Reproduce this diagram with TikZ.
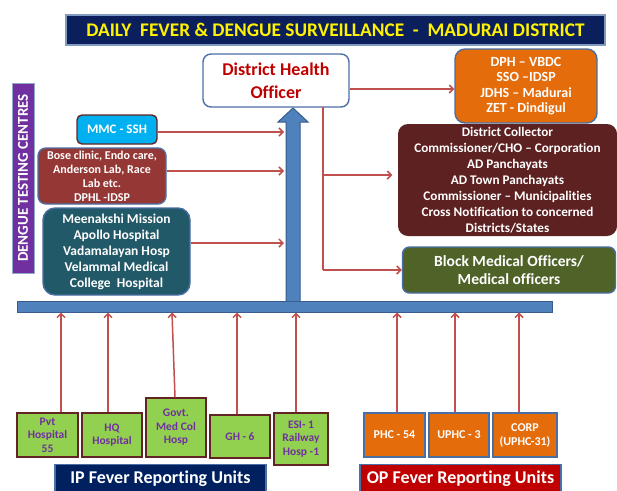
\documentclass[tikz,border=0pt]{standalone}
\usepackage{fontspec}
\setmainfont{Carlito}[Ligatures=NoCommon]
\usetikzlibrary{arrows.meta,calc}
\definecolor{navy}{HTML}{0B1F5C}
\definecolor{navyb}{HTML}{002060}
\definecolor{frameblue}{HTML}{4A6FA5}
\definecolor{dhored}{HTML}{C00000}
\definecolor{orangeb}{HTML}{E46C0A}
\definecolor{brownb}{HTML}{5E2121}
\definecolor{greenb}{HTML}{4F6228}
\definecolor{cyanb}{HTML}{00B0F0}
\definecolor{boseb}{HTML}{953735}
\definecolor{tealb}{HTML}{215968}
\definecolor{purpleb}{HTML}{7030A0}
\definecolor{barblue}{HTML}{4F81BD}
\definecolor{barline}{HTML}{385D8A}
\definecolor{arrowred}{HTML}{C0504D}
\definecolor{lgreen}{HTML}{92D050}
\definecolor{dkred}{HTML}{632523}
\definecolor{banred}{HTML}{C00000}
\tikzset{
  box/.style={draw=frameblue, line width=1.4pt, align=center, inner sep=0pt, text=white},
  redarrow/.style={draw=arrowred, line width=1.5pt, -{Straight Barb[length=4pt,width=8pt]}},
  redline/.style={draw=arrowred, line width=1.5pt},
  ipbox/.style={draw=dkred, line width=1.4pt, fill=lgreen, text=purpleb, align=center, inner sep=0pt,
    font=\bfseries\fontsize{11.5}{13.5}\selectfont},
  opbox/.style={draw=frameblue, line width=1.4pt, fill=orangeb, text=white, align=center, inner sep=0pt,
    font=\bfseries\fontsize{12}{14}\selectfont},
}
\begin{document}
\begin{tikzpicture}[x=1pt,y=-1pt]
\useasboundingbox[fill=white] (0,0) rectangle (617,490);

% title banner
\node[box, draw=frameblue!70, fill=navy, text={yellow}, minimum width=539pt, minimum height=30pt,
  font=\bfseries\fontsize{19.3}{22}\selectfont] (title) at (335.5,30)
  {DAILY\ \ FEVER \& DENGUE SURVEILLANCE\ \ -\ \ MADURAI DISTRICT};

% district health officer
\node[box, fill=white, text=dhored, rounded corners=8pt, minimum width=146pt, minimum height=53pt,
  font=\bfseries\fontsize{18}{22.5}\selectfont] (dho) at (276,80.5) {District Health\\Officer};

% orange box
\node[box, fill=orangeb, rounded corners=10pt, minimum width=142pt, minimum height=74pt,
  font=\bfseries\fontsize{14}{15.5}\selectfont] (orange) at (526,86)
  {DPH -- VBDC\\SSO --IDSP\\JDHS -- Madurai\\ZET - Dindigul};

% brown box
\node[box, draw=none, fill=brownb, rounded corners=10pt, minimum width=219pt, minimum height=112pt,
  font=\bfseries\fontsize{13.2}{16}\selectfont] (brown) at (507.5,180)
  {District Collector\\Commissioner/CHO -- Corporation\\AD Panchayats\\AD Town Panchayats\\Commissioner -- Municipalities\\Cross Notification to concerned\\Districts/States};

% green box
\node[box, fill=greenb, rounded corners=7pt, minimum width=213pt, minimum height=46pt,
  font=\bfseries\fontsize{15.5}{18}\selectfont] (green) at (509,270)
  {Block Medical Officers/\\Medical officers};

% purple label
\node[fill=purpleb, draw=frameblue!60, line width=1pt, minimum width=190pt, minimum height=22pt, inner sep=0pt,
  rotate=90, text=white, font=\bfseries\fontsize{15}{17}\selectfont] (dtc) at (23,178)
  {DENGUE TESTING CENTRES};

% left boxes
\node[box, draw=dkred, fill=cyanb, rounded corners=5pt, minimum width=80pt, minimum height=29pt,
  font=\bfseries\fontsize{13}{15}\selectfont] (mmc) at (117,129.5) {MMC - SSH};
\node[box, fill=boseb, rounded corners=8pt, minimum width=128pt, minimum height=56pt,
  font=\bfseries\fontsize{12}{14}\selectfont] (bose) at (102,176)
  {Bose clinic, Endo care,\\Anderson Lab, Race\\Lab etc.\\DPHL -IDSP};
\node[box, fill=tealb, rounded corners=12pt, minimum width=147pt, minimum height=87pt,
  font=\bfseries\fontsize{13.5}{16}\selectfont] (teal) at (116.5,251.5)
  {Meenakshi Mission\\Apollo Hospital\\Vadamalayan Hosp\\Velammal Medical\\College\ \ Hospital};

% horizontal bar
\node[draw=barline, fill=barblue, line width=1pt, minimum width=535pt, minimum height=11pt, inner sep=0pt]
  (bar) at (284.5,306.5) {};

% big vertical arrow
\draw[draw=barline, fill=barblue, line width=1pt]
  (286,301) -- (286,122) -- (278,122) -- (293,108) -- (308,122) -- (300,122) -- (300,301);
\coordinate (shaftL) at (284,0);

% arrows from testing centres
\draw[redarrow] (mmc.east |- 0,132) -- (shaftL |- 0,132);
\draw[redarrow] (bose.east |- 0,171) -- (shaftL |- 0,171);
\draw[redarrow] (teal.east |- 0,243) -- (shaftL |- 0,243);

% DHO outgoing
\draw[redarrow] (dho.east |- 0,89) -- (orange.west |- 0,89);
\coordinate (vtop) at (323,107);
\coordinate (vmid) at (323,175);
\coordinate (vbot) at (323,270);
\draw[redline] (vtop) -- (vbot);
\draw[redarrow, shorten >=5pt] (vmid) -- (brown.west |- vmid);
\draw[redarrow] (vbot) -- (green.west |- vbot);

% IP boxes
\node[ipbox, minimum width=61pt, minimum height=44pt] (pvt) at (47.5,435) {Pvt\\Hospital\\55};
\node[ipbox, minimum width=60pt, minimum height=44pt] (hq) at (112,435) {HQ\\Hospital};
\node[ipbox, minimum width=60pt, minimum height=59pt] (govt) at (176,427.5) {Govt.\\Med Col\\Hosp};
\node[ipbox, minimum width=60pt, minimum height=43pt] (gh) at (240,436.5) {GH - 6};
\node[ipbox, minimum width=54pt, minimum height=52pt] (esi) at (301,439) {ESI- 1\\Railway\\Hosp -1};

% OP boxes
\node[opbox, minimum width=61pt, minimum height=44pt] (phc) at (394.5,435) {PHC - 54};
\node[opbox, minimum width=60pt, minimum height=44pt] (uphc) at (459,435) {UPHC - 3};
\node[opbox, minimum width=64pt, minimum height=44pt] (corp) at (525,435) {CORP\\(UPHC-31)};

% upward arrows
\draw[redarrow] (pvt.north -| 61,0) -- (bar.south -| 61,0);
\draw[redarrow] (hq.north -| 108,0) -- (bar.south -| 108,0);
\draw[redarrow] (govt.north -| 175,0) -- (bar.south -| 172,0);
\draw[redarrow] (gh.north -| 237,0) -- (bar.south -| 237,0);
\draw[redarrow] (esi.north -| 296,0) -- (bar.south -| 296,0);
\draw[redarrow] (phc.north -| 397,0) -- (bar.south -| 397,0);
\draw[redarrow] (uphc.north -| 455,0) -- (bar.south -| 455,0);
\draw[redarrow] (corp.north -| 519,0) -- (bar.south -| 519,0);

% bottom banners
\node[box, fill=navyb, minimum width=211pt, minimum height=28pt, anchor=north,
  font=\bfseries\fontsize{18}{20}\selectfont] (ipban) at (160.5,464) {IP Fever Reporting Units};
\node[box, fill=banred, minimum width=201pt, minimum height=28pt, anchor=north,
  font=\bfseries\fontsize{18}{20}\selectfont] (opban) at (460.5,464) {OP Fever Reporting Units};
\end{tikzpicture}
\end{document}
